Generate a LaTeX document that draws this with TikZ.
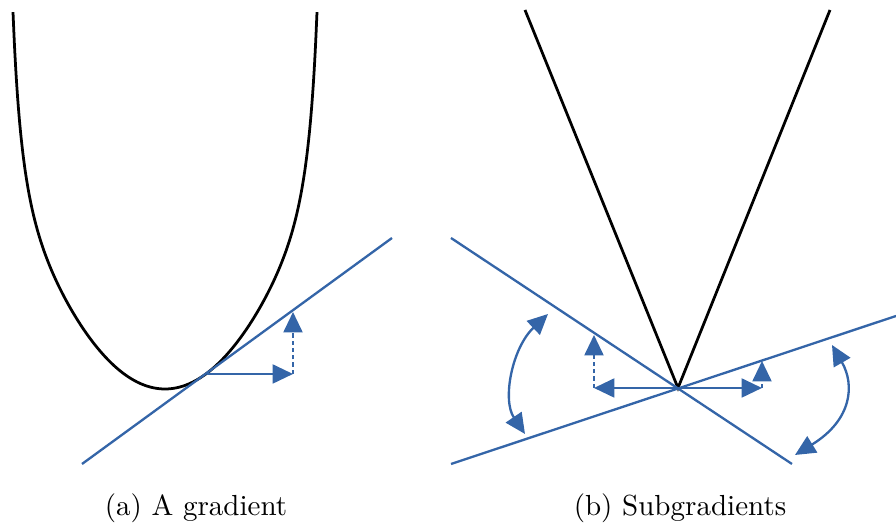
\documentclass[tikz,border=0pt]{standalone}
\usetikzlibrary{arrows.meta}
\definecolor{gradblue}{HTML}{3465A8}

\begin{document}
\begin{tikzpicture}[x=0.0121cm, y=-0.0121cm,
  fn/.style={black, line width=0.95pt},
  tline/.style={gradblue, line width=0.8pt},
  arr/.style={-{Triangle[length=7pt,width=6.5pt]}, gradblue, line width=0.8pt},
  darr/.style={arr, dash pattern=on 1.5pt off 1pt},
  barr/.style={{Triangle[length=7pt,width=6.5pt]}-{Triangle[length=7pt,width=6.5pt]}, gradblue, line width=0.8pt}
]
  \useasboundingbox (0,0) rectangle (896,525);
  % (a) smooth function and its tangent
  \draw[fn] plot[domain=-152:152, samples=200, smooth]
    ({165+\x}, {389-90*(\x/100)*(\x/100)/(1-(abs(\x)/164.7)^10)});
  \coordinate (a0) at (82,464);
  \coordinate (a1) at (392,238);
  \draw[tline] (a0) -- (a1);
  \coordinate (tp) at (207,374);
  \coordinate (dx) at (293,374);
  \coordinate (dy) at (293,312);
  \draw[arr] (tp) -- (dx);
  \draw[darr] (dx) -- (dy);
  \node (capa) at (196,508) {(a) A gradient};

  % (b) kink and two supporting lines
  \coordinate (vtx) at (678,388);
  \coordinate (vl) at (525,10);
  \coordinate (vr) at (830,10);
  \draw[fn] (vl) -- (vtx) -- (vr);
  \coordinate (b0) at (451,238);
  \coordinate (b1) at (792,464);
  \coordinate (c0) at (451,464);
  \coordinate (c1) at (896,316);
  \draw[tline] (b0) -- (b1);
  \draw[tline] (c0) -- (c1);
  \coordinate (lx) at (594,388);
  \coordinate (ly) at (594,335);
  \coordinate (rx) at (762,388);
  \coordinate (ry) at (762,361);
  \draw[arr] (vtx) -- (lx);
  \draw[darr] (lx) -- (ly);
  \draw[arr] (vtx) -- (rx);
  \draw[darr] (rx) -- (ry);
  \coordinate (sw1) at (548,314);
  \coordinate (sw2) at (525,434);
  \coordinate (sw3) at (832,345);
  \coordinate (sw4) at (795,455);
  \draw[barr] (sw1) .. controls (512,348) and (502,400) .. (sw2);
  \draw[barr] (sw3) .. controls (855,385) and (852,420) .. (sw4);
  \node (capb) at (680,508) {(b) Subgradients};
\end{tikzpicture}
\end{document}
